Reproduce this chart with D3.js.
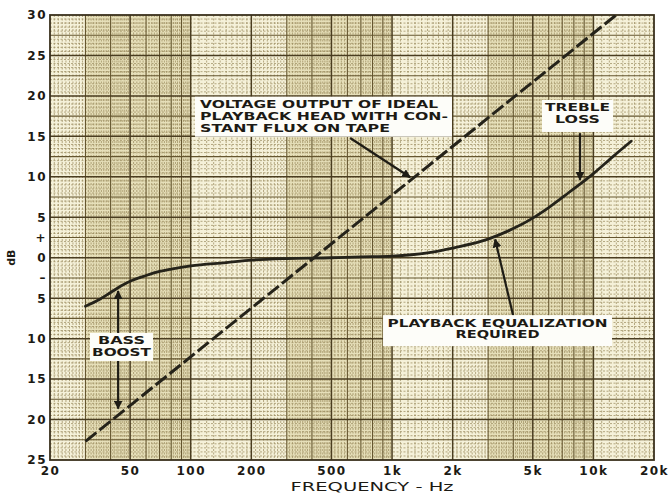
<!DOCTYPE html>
<html>
<head>
<meta charset="utf-8">
<script src="https://cdn.jsdelivr.net/npm/d3@7"></script>
<style>
  body { margin: 0; background: #fff; }
  svg { display: block; }
  text { font-family: "DejaVu Sans", sans-serif; fill: #1c1a14; }
</style>
</head>
<body>
<div id="wrapper"></div>
<script>
// 1. data
const freqTickValues = [20, 50, 100, 200, 500, 1000, 2000, 5000, 10000, 20000]
const freqTickLabels = ["20", "50", "100", "200", "500", "1k", "2k", "5k", "10k", "20k"]
const dbTickValues = [30, 25, 20, 15, 10, 5, 2.5, 0, -2.5, -5, -10, -15, -20, -25]
const dbTickLabels = ["30", "25", "20", "15", "10", "5", "+", "0", "–", "5", "10", "15", "20", "25"]

// playback equalization required (solid)
const eqFreq = [30, 35, 40, 45, 50, 60, 70, 80, 100, 150, 200, 300, 500, 700, 1000, 1500, 2000, 3000, 4000, 5000, 6000, 7500, 10000, 12500, 15400]
const eqDb = [-6.0, -5.2, -4.3, -3.5, -2.9, -2.2, -1.7, -1.4, -1.0, -0.6, -0.3, -0.1, 0, 0.1, 0.2, 0.6, 1.2, 2.3, 3.6, 4.9, 6.2, 8.0, 10.4, 12.5, 14.4]

// ideal playback head output, 6 dB/octave (dashed)
const headFreq = [30, 12970]
const headDb = [-22.7, 30]

function drawChart() {
  // 2. dimensions
  const dimensions = {
    width: 669,
    height: 494,
    margin: { top: 15, right: 15, bottom: 34, left: 50 },
  }
  dimensions.boundedWidth = dimensions.width - dimensions.margin.left - dimensions.margin.right
  dimensions.boundedHeight = dimensions.height - dimensions.margin.top - dimensions.margin.bottom

  const svg = d3.select("#wrapper").append("svg")
    .attr("width", dimensions.width)
    .attr("height", dimensions.height)

  const bounds = svg.append("g")
    .attr("transform", `translate(${dimensions.margin.left},${dimensions.margin.top})`)

  // 3. scales
  const xScale = d3.scaleLog()
    .domain([20, 20000])
    .range([0, dimensions.boundedWidth])
  const yScale = d3.scaleLinear()
    .domain([-25, 30])
    .range([dimensions.boundedHeight, 0])
  const eqAt = d3.scaleLog().domain(eqFreq).range(eqDb)
  const headAt = d3.scaleLog().domain(headFreq).range(headDb)

  // 4. graph paper
  bounds.append("rect")
    .attr("width", dimensions.boundedWidth)
    .attr("height", dimensions.boundedHeight)
    .attr("fill", "#f5f1d9")

  // darker printed bands in the 3..10 part of each decade
  bounds.selectAll(".band")
    .data([[30, 100], [300, 1000], [3000, 10000]])
    .join("rect")
    .attr("x", d => xScale(d[0]))
    .attr("width", d => xScale(d[1]) - xScale(d[0]))
    .attr("height", dimensions.boundedHeight)
    .attr("fill", "#e6dfb9")

  const minorX = [], mediumX = [], majorX = []
  ;[10, 100, 1000, 10000].forEach(base => {
    for (let i = 10; i < 100; i += (i < 50 ? 1 : 2)) {
      const v = base * i / 10
      if (v <= 20 || v >= 20000) continue
      if (i % 10 === 0) {
        if (i === 10 || i === 20 || i === 50) majorX.push(v)
        else mediumX.push(v)
      } else minorX.push(v)
    }
  })
  const minorY = d3.range(-25, 30.01, 0.5).filter(v => v % 2.5 !== 0)
  const mediumY = d3.range(-25, 30.01, 2.5).filter(v => v % 5 !== 0)
  const majorY = d3.range(-20, 26, 5)

  const grid = bounds.append("g")
  grid.selectAll(".vminor").data(minorX).join("line")
    .attr("x1", d => xScale(d)).attr("x2", d => xScale(d))
    .attr("y2", dimensions.boundedHeight)
    .attr("stroke", "#968759").attr("stroke-width", 0.7)
    .attr("stroke-dasharray", "2,1.5")
  grid.selectAll(".hminor").data(minorY).join("line")
    .attr("y1", d => yScale(d)).attr("y2", d => yScale(d))
    .attr("x2", dimensions.boundedWidth)
    .attr("stroke", "#968759").attr("stroke-width", 0.7)
    .attr("stroke-dasharray", "2,1.5")
  grid.selectAll(".vmed").data(mediumX).join("line")
    .attr("x1", d => xScale(d)).attr("x2", d => xScale(d))
    .attr("y2", dimensions.boundedHeight)
    .attr("stroke", "#65562f").attr("stroke-width", 1.1)
  grid.selectAll(".hmed").data(mediumY).join("line")
    .attr("y1", d => yScale(d)).attr("y2", d => yScale(d))
    .attr("x2", dimensions.boundedWidth)
    .attr("stroke", "#65562f").attr("stroke-width", 1.1)
  grid.selectAll(".vmaj").data(majorX).join("line")
    .attr("x1", d => xScale(d)).attr("x2", d => xScale(d))
    .attr("y2", dimensions.boundedHeight)
    .attr("stroke", "#4a3d20").attr("stroke-width", 1.5)
  grid.selectAll(".hmaj").data(majorY).join("line")
    .attr("y1", d => yScale(d)).attr("y2", d => yScale(d))
    .attr("x2", dimensions.boundedWidth)
    .attr("stroke", "#4a3d20").attr("stroke-width", 1.5)

  bounds.append("rect")
    .attr("width", dimensions.boundedWidth)
    .attr("height", dimensions.boundedHeight)
    .attr("fill", "none")
    .attr("stroke", "#3a301c")
    .attr("stroke-width", 1.8)

  // 5. curves
  bounds.append("clipPath").attr("id", "plot-clip")
    .append("rect")
    .attr("width", dimensions.boundedWidth)
    .attr("height", dimensions.boundedHeight)

  const eqData = eqFreq.map((f, i) => [f, eqDb[i]])
  const headData = headFreq.map((f, i) => [f, headDb[i]])
  const line = d3.line()
    .x(d => xScale(d[0]))
    .y(d => yScale(d[1]))
    .curve(d3.curveMonotoneX)

  bounds.append("path")
    .attr("clip-path", "url(#plot-clip)")
    .attr("d", line(headData))
    .attr("fill", "none")
    .attr("stroke", "#25231a")
    .attr("stroke-width", 3)
    .attr("stroke-dasharray", "14,4")

  bounds.append("path")
    .attr("clip-path", "url(#plot-clip)")
    .attr("d", line(eqData))
    .attr("fill", "none")
    .attr("stroke", "#25231a")
    .attr("stroke-width", 2.8)
    .attr("stroke-linecap", "round")

  // 6. callouts
  svg.append("defs").append("marker")
    .attr("id", "head")
    .attr("viewBox", "0 0 10 10")
    .attr("refX", 9).attr("refY", 5)
    .attr("markerWidth", 4).attr("markerHeight", 4)
    .attr("orient", "auto")
    .append("path").attr("d", "M0,0L10,5L0,10Z").attr("fill", "#1e1c15")

  const arrows = [
    { from: [619, 14.8], to: [1230, headAt(1230) + 0.4] },
    { from: [8580, 15.4], to: [8580, eqAt(8580) + 0.5] },
    { from: [3990, -7.1], to: [3250, eqAt(3250) - 0.4] },
    { from: [43.6, -9.3], to: [43.6, eqAt(43.6) - 0.4] },
    { from: [43.6, -12.7], to: [43.6, headAt(43.6) + 0.8] },
  ]
  bounds.selectAll(".arrow").data(arrows).join("line")
    .attr("x1", d => xScale(d.from[0])).attr("y1", d => yScale(d.from[1]))
    .attr("x2", d => xScale(d.to[0])).attr("y2", d => yScale(d.to[1]))
    .attr("stroke", "#1e1c15")
    .attr("stroke-width", 2.2)
    .attr("marker-end", "url(#head)")

  const notes = [
    { at: [105, 19.9], w: 257, h: 40, align: "start",
      lines: [["VOLTAGE OUTPUT OF IDEAL", 238], ["PLAYBACK HEAD WITH CON-", 248], ["STANT FLUX ON TAPE", 190]] },
    { at: [5556, 19.5], w: 71, h: 32, align: "middle",
      lines: [["TREBLE", 65], ["LOSS", 45]] },
    { at: [902, -7.1], w: 229, h: 31, align: "middle",
      lines: [["PLAYBACK EQUALIZATION", 220], ["REQUIRED", 84]] },
    { at: [31.6, -9.3], w: 63, h: 28, align: "middle",
      lines: [["BASS", 47], ["BOOST", 59]] },
  ]
  const note = bounds.selectAll(".note").data(notes).join("g")
    .attr("transform", d => `translate(${xScale(d.at[0])},${yScale(d.at[1])})`)
  note.append("rect")
    .attr("width", d => d.w)
    .attr("height", d => d.h)
    .attr("fill", "#fdfdf9")
  note.each(function(d) {
    const g = d3.select(this)
    d.lines.forEach((ln, i) => {
      g.append("text")
        .attr("x", d.align === "start" ? 5 : d.w / 2)
        .attr("y", 11.5 + i * 11.7)
        .attr("text-anchor", d.align)
        .attr("font-size", 10)
        .attr("font-weight", "bold")
        .attr("textLength", ln[1])
        .attr("lengthAdjust", "spacingAndGlyphs")
        .text(ln[0])
    })
  })

  // 7. axes
  const yAxis = d3.axisLeft(yScale)
    .tickValues(dbTickValues)
    .tickFormat((d, i) => dbTickLabels[i])
    .tickSize(0)
    .tickPadding(3)
  const yAxisGroup = bounds.append("g").call(yAxis)
  yAxisGroup.select(".domain").remove()
  yAxisGroup.selectAll("text")
    .attr("font-family", "DejaVu Sans")
    .attr("font-size", 12)
    .attr("font-weight", "bold")
    .attr("letter-spacing", 1.5)
    .attr("fill", "#1c1a14")

  const xAxis = d3.axisBottom(xScale)
    .tickValues(freqTickValues)
    .tickFormat((d, i) => freqTickLabels[i])
    .tickSize(0)
    .tickPadding(6)
  const xAxisGroup = bounds.append("g")
    .attr("transform", `translate(0,${dimensions.boundedHeight})`)
    .call(xAxis)
  xAxisGroup.select(".domain").remove()
  xAxisGroup.selectAll("text")
    .attr("font-family", "DejaVu Sans")
    .attr("font-size", 12)
    .attr("font-weight", "bold")
    .attr("letter-spacing", 1.5)
    .attr("fill", "#1c1a14")

  bounds.append("text")
    .attr("x", (xScale(500) + xScale(2000)) / 2 - 20)
    .attr("y", dimensions.boundedHeight + 31)
    .attr("text-anchor", "middle")
    .attr("font-size", 12)
    .attr("textLength", 163)
    .attr("lengthAdjust", "spacingAndGlyphs")
    .text("FREQUENCY - Hz")

  svg.append("text")
    .attr("transform", `translate(15,${dimensions.margin.top + yScale(0)}) rotate(-90)`)
    .attr("text-anchor", "middle")
    .attr("font-size", 11)
    .attr("font-weight", "bold")
    .text("dB")
}

drawChart()
</script>
</body>
</html>
